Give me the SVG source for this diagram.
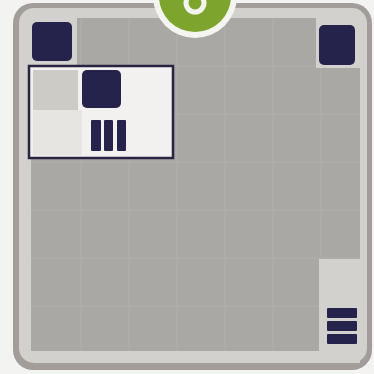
<svg xmlns="http://www.w3.org/2000/svg" width="374" height="374" viewBox="0 0 374 374">
<defs>
<style>
.dark{fill:#25224b}
.grid{stroke:#b3b1ae;stroke-width:1.5;fill:none;opacity:0.7}
</style>
</defs>
<rect width="374" height="374" fill="#f3f3f1"/>
<g id="board">
<rect x="13" y="3" width="359" height="367" rx="20" fill="#a29d99"/>
<rect x="19" y="8" width="348" height="355" rx="15" fill="#d2d1cd"/>
<rect x="31" y="18" width="329" height="333" fill="#aaa8a5"/>
<g class="grid">
<path d="M81 18V351M129 18V351M177 18V351M225 18V351M273 18V351M321 18V351"/>
<path d="M31 66H360M31 114H360M31 162H360M31 210H360M31 258H360M31 306H360"/>
</g>
<rect x="28" y="18" width="49" height="47" fill="#d2d1cd"/>
<rect x="316" y="18" width="44" height="50" fill="#d2d1cd"/>
<rect x="319" y="259" width="41" height="104" fill="#d2d1cd"/>
</g>
<g id="badge">
<circle cx="195" cy="-4" r="42" fill="#f4f4f0"/>
<circle cx="195" cy="-4" r="36" fill="#7da52d"/>
<circle cx="195" cy="3" r="9" fill="none" stroke="#f4f4ee" stroke-width="5"/>
</g>
<g id="corner-tl"><rect class="dark" x="32" y="22" width="40" height="39" rx="5"/></g>
<g id="corner-tr"><rect class="dark" x="319" y="25" width="36" height="40" rx="5"/></g>
<g id="panel">
<rect x="29" y="66" width="144" height="92" fill="#f2f1ef" stroke="#2a2443" stroke-width="2.5"/>
<rect x="33" y="70" width="45" height="40" fill="#cdcbc6"/>
<rect x="33" y="110" width="49" height="45" fill="#e6e5e2"/>
<rect class="dark" x="82" y="70" width="39" height="38" rx="5"/>
<rect class="dark" x="91" y="120" width="10" height="31" rx="1"/>
<rect class="dark" x="104" y="120" width="9" height="31" rx="1"/>
<rect class="dark" x="117" y="120" width="9" height="31" rx="1"/>
</g>
<g id="bars-br">
<rect class="dark" x="327" y="308" width="30" height="10" rx="1"/>
<rect class="dark" x="327" y="321" width="30" height="10" rx="1"/>
<rect class="dark" x="327" y="334" width="30" height="10" rx="1"/>
</g>
</svg>
